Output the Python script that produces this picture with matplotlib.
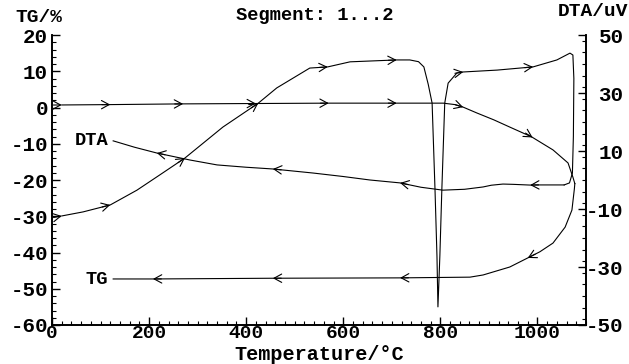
import numpy as np
import matplotlib
matplotlib.use("Agg")
import matplotlib.pyplot as plt
from matplotlib.ticker import MultipleLocator

# ── Data ───────────────────────────────────────────────────────────────────────

# TG, heating (%)
temp_tg_heat = [20, 120, 270, 420, 570, 710, 806, 830, 847, 875, 910, 943, 988,
                1032, 1063, 1073, 1077]
tg_heat = [0.7, 0.8, 1.0, 1.1, 1.2, 1.2, 1.2, 0.8, 0.1, -1.5, -3.4, -5.4, -8.1,
           -11.7, -15.3, -19.2, -21.0]

# TG, cooling (%)
temp_tg_cool = [1077, 1076, 1071, 1057, 1032, 1005, 980, 943, 923, 888, 861,
                717, 455, 208, 126]
tg_cool = [-21.0, -22.5, -28.3, -33.0, -37.4, -39.8, -41.5, -44.0, -44.8,
           -46.2, -46.8, -47.0, -47.1, -47.3, -47.3]

# DTA, heating (uV)
temp_dta_heat = [20, 64, 120, 175, 222, 274, 352, 425, 463, 531, 568, 614, 710,
                 737, 755, 766, 775, 783, 789, 793, 795, 797, 799, 803, 809,
                 816, 834, 847, 917, 991, 1040, 1067, 1073, 1075, 1074, 1072,
                 1066, 1055]
dta_heat = [-12.4, -11.0, -8.6, -3.5, 1.75, 7.6, 18.25, 26.5, 31.75, 38.6,
            39.0, 40.75, 41.4, 41.4, 40.8, 39.0, 33.0, 26.5, -3.5, -26.25,
            -43.75, -35.0, -26.0, -3.5, 26.5, 33.4, 36.9, 37.25, 37.9, 39.0,
            41.4, 43.75, 43.1, 35.0, 15.0, 2.4, -1.0, -1.7]

# DTA, cooling (uV)
temp_dta_cool = [1055, 1000, 985, 950, 929, 905, 888, 850, 805, 760, 717, 655,
                 600, 538, 455, 400, 340, 284, 216, 170, 126]
dta_cool = [-1.7, -1.7, -1.75, -1.5, -1.4, -1.8, -2.4, -3.2, -3.5, -2.5, -1.0,
            0.0, 1.2, 2.4, 3.8, 4.4, 5.2, 6.9, 9.3, 11.3, 13.5]

# where the direction chevrons sit (temperature)
arrows_tg_heat = [20, 120, 270, 420, 570, 710, 847, 990]
arrows_tg_cool = [980, 717, 455, 208]
arrows_dta_heat = [20, 120, 274, 425, 568, 710, 847, 991]
arrows_dta_cool = [985, 717, 455, 216]

tg_ticks = [20, 10, 0, -10, -20, -30, -40, -50, -60]
dta_ticks = [50, 30, 10, -10, -30, -50]
temp_ticks = [0, 200, 400, 600, 800, 1000]

# ── Style ──────────────────────────────────────────────────────────────────────

FONT = "Liberation Mono"
plt.rcParams["font.family"] = [FONT, "DejaVu Sans"]
plt.rcParams["font.weight"] = "bold"
plt.rcParams["axes.unicode_minus"] = False
LW = 0.8


def add_arrows(ax, xs, ys, at):
    """Open chevrons on a curve, pointing along the direction of travel."""
    xs = np.asarray(xs, float)
    ys = np.asarray(ys, float)
    for x0 in at:
        for j in range(len(xs) - 1):
            a, b = xs[j], xs[j + 1]
            if a != b and min(a, b) <= x0 <= max(a, b):
                t = (x0 - a) / (b - a)
                y0 = ys[j] + t * (ys[j + 1] - ys[j])
                p0 = ax.transData.transform((a, ys[j]))
                p1 = ax.transData.transform((b, ys[j + 1]))
                d = (p1 - p0) / np.hypot(*(p1 - p0))
                L = 6
                ax.annotate("", xy=(x0, y0), xytext=(-d[0] * L, -d[1] * L),
                            textcoords="offset points",
                            arrowprops=dict(arrowstyle="->,head_length=0.55,head_width=0.3",
                                            lw=LW, color="black",
                                            shrinkA=0, shrinkB=0))
                break


# ── Figure ─────────────────────────────────────────────────────────────────────

fig = plt.figure(figsize=(6.29, 3.64), dpi=100)
ax = fig.add_axes([52 / 629, 1 - 325 / 364, (586 - 52) / 629, 290 / 364])
ax2 = ax.twinx()

ax.set_xlim(0, 1100)
ax.set_ylim(-60, 20)
ax2.set_ylim(-50, 50)

# TG curves
ax.plot(temp_tg_heat, tg_heat, color="black", lw=LW)
ax.plot(temp_tg_cool, tg_cool, color="black", lw=LW)
# DTA curves
ax2.plot(temp_dta_heat, dta_heat, color="black", lw=LW)
ax2.plot(temp_dta_cool, dta_cool, color="black", lw=LW)

add_arrows(ax, temp_tg_heat, tg_heat, arrows_tg_heat)
add_arrows(ax, temp_tg_cool, tg_cool, arrows_tg_cool)
add_arrows(ax2, temp_dta_heat, dta_heat, arrows_dta_heat)
add_arrows(ax2, temp_dta_cool, dta_cool, arrows_dta_cool)

# curve labels
ax.text(82, -9.0, "DTA", fontsize=13.5, ha="center", va="center")
ax.text(93, -47.4, "TG", fontsize=13.5, ha="center", va="center")

# ── Axes formatting ────────────────────────────────────────────────────────────

for a in (ax, ax2):
    a.spines["top"].set_visible(False)
    for s in a.spines.values():
        s.set_linewidth(1.2)

ax.set_xticks(temp_ticks)
ax.xaxis.set_minor_locator(MultipleLocator(20))
ax.set_yticks(tg_ticks)
ax.yaxis.set_minor_locator(MultipleLocator(2))
ax2.set_yticks(dta_ticks)
ax2.yaxis.set_minor_locator(MultipleLocator(4))

ax.tick_params(which="both", direction="in", top=False, right=False,
               labelsize=15, pad=3)
ax.tick_params(axis="x", labelsize=14, pad=0)
ax.tick_params(which="major", length=6, width=1)
ax.tick_params(which="minor", length=3, width=0.8)
ax2.tick_params(which="both", direction="in", labelsize=15, pad=27)
ax2.tick_params(which="major", length=6, width=1)
ax2.tick_params(which="minor", length=3, width=0.8)
plt.setp(ax2.get_yticklabels(), ha="right")

# x-axis title placed by hand, the reference packs it tight under the ticks
fig.text(319 / 629, 1 - 360 / 364, "Temperature/°C", fontsize=14.5,
         ha="center", va="baseline")

fig.text(315 / 629, 1 - 15 / 364, "Segment: 1...2", fontsize=13.5,
         ha="center", va="center")
fig.text(15 / 629, 1 - 18 / 364, "TG/%", fontsize=14, ha="left", va="center")
fig.text(628 / 629, 1 - 11 / 364, "DTA/uV", fontsize=14, ha="right",
         va="center")

fig.savefig("out.png", dpi=100)
